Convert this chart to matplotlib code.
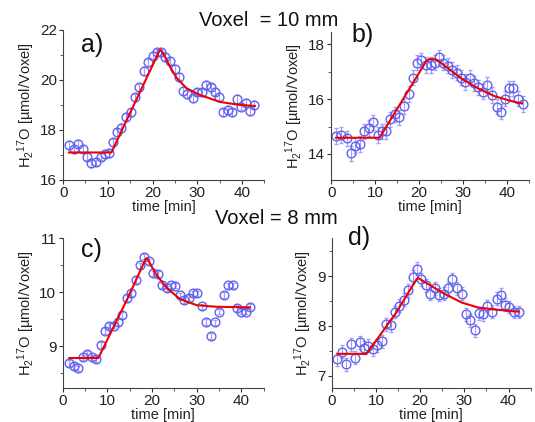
import matplotlib
matplotlib.use("Agg")
import matplotlib.pyplot as plt
from matplotlib.ticker import MultipleLocator

plt.rcParams["font.family"] = ["Liberation Sans", "DejaVu Sans"]
plt.rcParams["mathtext.fontset"] = "custom"
plt.rcParams["mathtext.rm"] = "Liberation Sans"
plt.rcParams["mathtext.it"] = "Liberation Sans"

# panel a) voxel 10 mm
t_a = [1.3, 2.4, 3.4, 4.5, 5.4, 6.3, 7.3, 8.4, 9.3, 10.2, 11.2, 12.1, 13.0, 14.0, 15.1,
       16.0, 17.0, 18.1, 19.0, 20.0, 20.9, 21.9, 22.9, 23.9, 25.0, 25.9, 26.9, 27.8, 29.0,
       29.9, 31.0, 31.9, 33.0, 34.0, 34.9, 35.8, 36.8, 37.8, 38.8, 39.8, 40.8, 41.8, 42.8]
v_a = [17.40, 17.24, 17.44, 17.25, 16.93, 16.67, 16.73, 16.93, 17.04, 17.07, 17.50, 17.90,
       18.07, 18.53, 18.70, 19.30, 19.70, 20.36, 20.70, 20.97, 21.10, 21.10, 20.93, 20.77,
       20.44, 20.13, 19.56, 19.43, 19.27, 19.50, 19.50, 19.80, 19.70, 19.53, 19.33, 18.70,
       18.80, 18.70, 19.24, 18.93, 19.07, 18.76, 19.00]
fit_t_a = [1.3, 10.8, 21.5, 21.8, 22.3, 23.0, 23.9, 25.4, 27.6, 30.6, 35.1, 39.6, 42.9]
fit_v_a = [17.1, 17.1, 21.15, 21.2, 21.1, 20.85, 20.53, 20.08, 19.67, 19.4, 19.12, 19.0, 18.96]

# panel b)
t_b = [1.1, 2.3, 3.5, 4.6, 5.5, 6.6, 7.5, 8.5, 9.5, 10.6, 11.5, 12.5, 13.4, 14.6, 15.5,
       16.5, 17.6, 18.6, 19.5, 20.5, 21.5, 22.6, 23.5, 24.5, 25.5, 26.6, 27.5, 28.5, 29.5,
       30.4, 31.5, 32.5, 33.4, 34.6, 35.5, 36.5, 37.6, 38.5, 39.5, 40.5, 41.4, 42.5, 43.5]
v_b = [14.65, 14.69, 14.57, 14.02, 14.30, 14.36, 14.83, 14.95, 15.15, 14.69, 14.83, 14.83,
       15.26, 15.44, 15.33, 15.74, 16.18, 16.78, 17.33, 17.41, 17.24, 17.24, 17.33, 17.52,
       17.33, 17.22, 17.06, 16.96, 16.78, 16.63, 16.78, 16.57, 16.43, 16.27, 16.51, 16.15,
       15.72, 15.54, 16.02, 16.39, 16.39, 16.02, 15.82]
fit_t_b = [1.1, 11.0, 21.6, 22.3, 23.2, 24.3, 26.6, 29.6, 33.4, 37.1, 40.9, 43.4]
fit_v_b = [14.59, 14.59, 17.38, 17.46, 17.46, 17.40, 17.12, 16.75, 16.39, 16.11, 15.93, 15.84]

# panel c) voxel 8 mm
t_c = [1.5, 2.5, 3.5, 4.5, 5.5, 6.5, 7.5, 8.5, 9.5, 10.4, 11.5, 12.5, 13.4, 14.3, 15.4,
       16.4, 17.3, 18.3, 19.3, 20.3, 21.3, 22.3, 23.3, 24.2, 25.2, 26.3, 27.2, 28.2, 29.1,
       30.1, 31.1, 32.1, 33.1, 34.1, 35.1, 36.1, 37.1, 38.1, 39.0, 40.0, 41.0, 41.9]
v_c = [8.69, 8.63, 8.59, 8.79, 8.86, 8.79, 8.76, 9.02, 9.28, 9.38, 9.38, 9.45, 9.58, 9.89,
       9.98, 10.23, 10.50, 10.66, 10.57, 10.35, 10.34, 10.13, 10.07, 10.13, 10.12, 9.94,
       9.85, 9.89, 9.98, 9.98, 9.74, 9.45, 9.19, 9.44, 9.64, 9.95, 10.13, 10.13, 9.71,
       9.64, 9.64, 9.73]
fit_t_c = [1.5, 8.0, 14.5, 18.6, 18.9, 21.0, 23.3, 26.3, 30.0, 34.5, 41.9]
fit_v_c = [8.78, 8.78, 9.88, 10.62, 10.63, 10.32, 10.08, 9.87, 9.76, 9.73, 9.72]

# panel d)
t_d = [1.3, 2.3, 3.2, 4.3, 5.3, 6.3, 7.2, 8.3, 9.3, 10.3, 11.3, 12.2, 13.3, 14.3, 15.2,
       16.3, 17.3, 18.3, 19.3, 20.3, 21.3, 22.3, 23.3, 24.3, 25.4, 26.3, 27.3, 28.3, 29.4,
       30.3, 31.3, 32.3, 33.3, 34.3, 35.2, 36.3, 37.3, 38.3, 39.2, 40.2, 41.2, 42.3]
v_d = [7.33, 7.48, 7.23, 7.63, 7.36, 7.67, 7.56, 7.60, 7.53, 7.61, 7.69, 8.03, 8.01, 8.28,
       8.41, 8.53, 8.72, 8.99, 9.15, 8.94, 8.82, 8.65, 8.76, 8.63, 8.65, 8.76, 8.94, 8.76,
       8.65, 8.23, 8.11, 7.91, 8.25, 8.23, 8.40, 8.29, 8.55, 8.63, 8.43, 8.38, 8.28, 8.28]
fit_t_d = [1.3, 7.9, 14.6, 19.2, 19.6, 21.8, 25.6, 29.4, 33.1, 36.9, 41.7, 42.3]
fit_v_d = [7.44, 7.44, 8.27, 8.94, 8.96, 8.84, 8.64, 8.47, 8.37, 8.33, 8.29, 8.29]

err = {"a": 0.15, "b": 0.28, "c": 0.05, "d": 0.13}

panels = [
    ("a", t_a, v_a, fit_t_a, fit_v_a, (16, 22), 2, 1, [0.118, 0.5735, 0.376, 0.3555], (0.09, 0.90)),
    ("b", t_b, v_b, fit_t_b, fit_v_b, (13.05, 18.46), 2, 1, [0.619, 0.5735, 0.370, 0.3515], (0.10, 0.98)),
    ("c", t_c, v_c, fit_t_c, fit_v_c, (8.23, 11), 1, 0.5, [0.117, 0.0813, 0.376, 0.354], (0.09, 0.92)),
    ("d", t_d, v_d, fit_t_d, fit_v_d, (6.76, 9.76), 1, 0.5, [0.620, 0.0813, 0.372, 0.354], (0.08, 1.00)),
]

fig = plt.figure(figsize=(5.35, 4.22), dpi=100)

for key, t, v, ft, fv, ylim, ymaj, ymin, pos, lab in panels:
    ax = fig.add_axes(pos)
    ax.errorbar(t, v, yerr=err[key], fmt="o", ms=6.3, mfc="none", mec="#6262f0",
                mew=1.0, ecolor="#a0a0f5", elinewidth=0.8, capsize=1.5, capthick=0.8,
                zorder=2)
    ax.plot(ft, fv, color="#ee0000", lw=1.5, zorder=3)
    ax.set_xlim(0, 45)
    ax.set_ylim(*ylim)
    ax.xaxis.set_major_locator(MultipleLocator(10))
    ax.xaxis.set_minor_locator(MultipleLocator(5))
    ax.yaxis.set_major_locator(MultipleLocator(ymaj))
    ax.yaxis.set_minor_locator(MultipleLocator(ymin))
    for s in ("top", "right"):
        ax.spines[s].set_visible(False)
    for s in ("left", "bottom"):
        ax.spines[s].set_color("#444444")
        ax.spines[s].set_linewidth(0.8)
    ax.tick_params(which="major", direction="out", length=3, width=0.8,
                   labelsize=11, pad=1.5, colors="#333333", labelcolor="#222222")
    ax.tick_params(which="minor", direction="out", length=2, width=0.6, colors="#444444")
    ax.set_xlabel("time [min]", fontsize=10.5, labelpad=0, color="#222222")
    ax.set_ylabel("H$_2$$^{17}$O [µmol/Voxel]", fontsize=10.5, labelpad=2,
                  color="#222222")
    ax.text(lab[0], lab[1], key + ")", transform=ax.transAxes, fontsize=18,
            ha="left", va="center", color="#111111")

fig.text(0.502, 0.952, "Voxel  = 10 mm", fontsize=14.5, ha="center", va="center",
         color="#111111")
fig.text(0.517, 0.482, "Voxel = 8 mm", fontsize=14.5, ha="center", va="center",
         color="#111111")

fig.savefig("out.png", dpi=100, facecolor="white")
